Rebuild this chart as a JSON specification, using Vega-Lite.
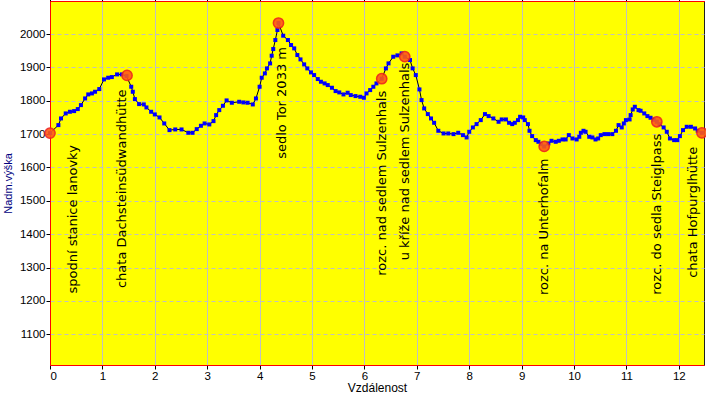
{
  "$schema": "https://vega.github.io/schema/vega-lite/v6.json",
  "width": 654,
  "height": 364,
  "autosize": {"type": "none"},
  "padding": {"left": 50, "top": 1, "right": 2, "bottom": 32},
  "background": "white",
  "config": {
    "view": {"fill": "#FFFF00", "stroke": "#202020", "strokeWidth": 1},
    "axis": {
      "labelFont": "Liberation Sans", "labelFontSize": 11.5, "labelColor": "#000000",
      "tickColor": "#000000", "tickSize": 4, "domainColor": "#FF0000",
      "gridColor": "#C0C0C0", "gridDash": [4, 3], "gridWidth": 1,
      "titleFont": "Liberation Sans", "titleFontWeight": "normal", "titleFontSize": 11, "titleColor": "#000000"
    }
  },
  "datasets": {
    "profile": [
      {"km":0.00,"elev":1703},{"km":0.16,"elev":1727},{"km":0.21,"elev":1747},{"km":0.30,"elev":1762},{"km":0.38,"elev":1767},
      {"km":0.46,"elev":1769},{"km":0.53,"elev":1775},{"km":0.59,"elev":1787},{"km":0.67,"elev":1807},{"km":0.73,"elev":1819},
      {"km":0.80,"elev":1822},{"km":0.86,"elev":1827},{"km":0.94,"elev":1835},{"km":1.03,"elev":1864},{"km":1.11,"elev":1869},
      {"km":1.18,"elev":1871},{"km":1.28,"elev":1879},{"km":1.37,"elev":1879},{"km":1.46,"elev":1874},{"km":1.55,"elev":1842},
      {"km":1.58,"elev":1827},{"km":1.62,"elev":1805},{"km":1.70,"elev":1790},{"km":1.79,"elev":1789},{"km":1.84,"elev":1780},
      {"km":1.93,"elev":1767},{"km":2.00,"elev":1759},{"km":2.09,"elev":1750},{"km":2.18,"elev":1732},{"km":2.28,"elev":1712},
      {"km":2.39,"elev":1714},{"km":2.51,"elev":1714},{"km":2.64,"elev":1704},{"km":2.72,"elev":1704},{"km":2.80,"elev":1715},
      {"km":2.88,"elev":1725},{"km":2.95,"elev":1732},{"km":3.04,"elev":1729},{"km":3.12,"elev":1739},{"km":3.17,"elev":1757},
      {"km":3.23,"elev":1772},{"km":3.30,"elev":1785},{"km":3.37,"elev":1801},{"km":3.47,"elev":1794},{"km":3.61,"elev":1797},
      {"km":3.69,"elev":1795},{"km":3.77,"elev":1794},{"km":3.87,"elev":1789},{"km":3.93,"elev":1807},{"km":4.00,"elev":1842},
      {"km":4.04,"elev":1869},{"km":4.10,"elev":1882},{"km":4.14,"elev":1897},{"km":4.20,"elev":1912},{"km":4.23,"elev":1935},
      {"km":4.26,"elev":1955},{"km":4.30,"elev":1982},{"km":4.34,"elev":2012},{"km":4.36,"elev":2033},{"km":4.45,"elev":1995},
      {"km":4.54,"elev":1982},{"km":4.60,"elev":1967},{"km":4.66,"elev":1957},{"km":4.72,"elev":1937},{"km":4.78,"elev":1924},
      {"km":4.85,"elev":1909},{"km":4.91,"elev":1897},{"km":4.98,"elev":1885},{"km":5.04,"elev":1877},{"km":5.11,"elev":1865},
      {"km":5.17,"elev":1857},{"km":5.24,"elev":1852},{"km":5.30,"elev":1847},{"km":5.38,"elev":1839},{"km":5.45,"elev":1829},
      {"km":5.52,"elev":1825},{"km":5.60,"elev":1819},{"km":5.68,"elev":1824},{"km":5.74,"elev":1817},{"km":5.83,"elev":1814},
      {"km":5.92,"elev":1812},{"km":5.99,"elev":1809},{"km":6.04,"elev":1822},{"km":6.11,"elev":1832},{"km":6.17,"elev":1842},
      {"km":6.23,"elev":1852},{"km":6.33,"elev":1866},{"km":6.41,"elev":1897},{"km":6.46,"elev":1912},{"km":6.55,"elev":1932},
      {"km":6.63,"elev":1936},{"km":6.71,"elev":1942},{"km":6.77,"elev":1932},{"km":6.87,"elev":1922},{"km":6.92,"elev":1897},
      {"km":6.98,"elev":1877},{"km":7.05,"elev":1834},{"km":7.09,"elev":1802},{"km":7.14,"elev":1777},{"km":7.21,"elev":1760},
      {"km":7.27,"elev":1747},{"km":7.33,"elev":1734},{"km":7.41,"elev":1710},{"km":7.51,"elev":1702},{"km":7.60,"elev":1702},
      {"km":7.70,"elev":1700},{"km":7.79,"elev":1704},{"km":7.88,"elev":1697},{"km":7.95,"elev":1690},{"km":8.00,"elev":1707},
      {"km":8.07,"elev":1720},{"km":8.14,"elev":1730},{"km":8.22,"elev":1742},{"km":8.30,"elev":1760},{"km":8.37,"elev":1754},
      {"km":8.46,"elev":1747},{"km":8.56,"elev":1737},{"km":8.62,"elev":1744},{"km":8.70,"elev":1744},{"km":8.76,"elev":1734},
      {"km":8.82,"elev":1730},{"km":8.87,"elev":1734},{"km":8.93,"elev":1742},{"km":8.97,"elev":1752},{"km":9.03,"elev":1750},
      {"km":9.06,"elev":1742},{"km":9.12,"elev":1730},{"km":9.15,"elev":1710},{"km":9.20,"elev":1694},{"km":9.27,"elev":1682},
      {"km":9.32,"elev":1677},{"km":9.37,"elev":1670},{"km":9.43,"elev":1663},{"km":9.51,"elev":1672},{"km":9.57,"elev":1680},
      {"km":9.65,"elev":1677},{"km":9.71,"elev":1680},{"km":9.78,"elev":1684},{"km":9.84,"elev":1684},{"km":9.90,"elev":1697},
      {"km":9.97,"elev":1687},{"km":10.05,"elev":1684},{"km":10.10,"elev":1692},{"km":10.13,"elev":1704},{"km":10.18,"elev":1710},
      {"km":10.22,"elev":1707},{"km":10.29,"elev":1692},{"km":10.35,"elev":1690},{"km":10.41,"elev":1684},{"km":10.46,"elev":1687},
      {"km":10.51,"elev":1697},{"km":10.58,"elev":1700},{"km":10.65,"elev":1700},{"km":10.73,"elev":1700},{"km":10.80,"elev":1710},
      {"km":10.85,"elev":1727},{"km":10.91,"elev":1720},{"km":10.95,"elev":1732},{"km":10.99,"elev":1742},{"km":11.06,"elev":1744},
      {"km":11.08,"elev":1757},{"km":11.12,"elev":1774},{"km":11.16,"elev":1782},{"km":11.23,"elev":1772},{"km":11.27,"elev":1770},
      {"km":11.34,"elev":1762},{"km":11.40,"elev":1754},{"km":11.46,"elev":1749},{"km":11.52,"elev":1743},{"km":11.58,"elev":1737},
      {"km":11.63,"elev":1730},{"km":11.71,"elev":1720},{"km":11.77,"elev":1707},{"km":11.83,"elev":1687},{"km":11.91,"elev":1682},
      {"km":11.97,"elev":1682},{"km":12.02,"elev":1694},{"km":12.08,"elev":1712},{"km":12.15,"elev":1722},{"km":12.23,"elev":1722},
      {"km":12.31,"elev":1717},{"km":12.36,"elev":1710},{"km":12.44,"elev":1704}
    ],
    "points": [
      {"km":0.00,"elev":1703,"name":"spodní stanice lanovky"},
      {"km":1.47,"elev":1876,"name":"chata Dachsteinsüdwandhütte"},
      {"km":4.36,"elev":2033,"name":"sedlo Tor 2033 m"},
      {"km":6.33,"elev":1866,"name":"rozc. nad sedlem Sulzenhals"},
      {"km":6.77,"elev":1932,"name":"u kříže nad sedlem Sulzenhals"},
      {"km":9.43,"elev":1663,"name":"rozc. na Unterhofalm"},
      {"km":11.58,"elev":1737,"name":"rozc. do sedla Steiglpass"},
      {"km":12.44,"elev":1704,"name":"chata Hofpurglhütte"}
    ]
  },
  "encoding": {
    "x": {"field": "km", "type": "quantitative",
      "scale": {"domain": [0, 12.48], "nice": false, "zero": false},
      "axis": {"values": [0,1,2,3,4,5,6,7,8,9,10,11,12], "title": "Vzdálenost", "titleFontSize": 12, "titlePadding": 1, "labelPadding": 1, "grid": true}},
    "y": {"field": "elev", "type": "quantitative",
      "scale": {"domain": [1008, 2099], "nice": false, "zero": false},
      "axis": {"values": [1100,1200,1300,1400,1500,1600,1700,1800,1900,2000], "format": "d", "title": "Nadm.výška", "titleColor": "#000080", "titlePadding": 6, "labelPadding": 1, "grid": true}}
  },
  "layer": [
    {
      "data": {"name": "profile"},
      "mark": {"type": "line", "color": "#000000", "strokeWidth": 1}
    },
    {
      "data": {"name": "profile"},
      "mark": {"type": "square", "size": 16, "color": "#0000FF", "opacity": 1}
    },
    {
      "data": {"name": "points"},
      "mark": {"type": "circle", "size": 105, "fill": "#FF5A14", "stroke": "#EE2020", "strokeWidth": 1.5, "opacity": 0.9},
      "encoding": {
        "x": {"field": "km", "type": "quantitative",
          "axis": {"orient": "top", "values": [], "labels": false, "ticks": false, "grid": false, "title": null, "domainColor": "#FF0000"}}
      }
    },
    {
      "data": {"name": "points"},
      "transform": [{"filter": {"field": "name", "oneOf": ["rozc. nad sedlem Sulzenhals", "rozc. na Unterhofalm", "rozc. do sedla Steiglpass"]}}],
      "mark": {"type": "text", "angle": 270, "align": "right", "baseline": "middle", "dx": -12, "dy": 0, "font": "DejaVu Sans", "fontSize": 13, "color": "#000000"},
      "encoding": {"text": {"field": "name"}}
    },
    {
      "data": {"name": "points"},
      "transform": [{"filter": {"field": "name", "equal": "spodní stanice lanovky"}}],
      "mark": {"type": "text", "angle": 270, "align": "right", "baseline": "middle", "dx": -12, "dy": 23, "font": "DejaVu Sans", "fontSize": 13, "color": "#000000"},
      "encoding": {"text": {"field": "name"}}
    },
    {
      "data": {"name": "points"},
      "transform": [{"filter": {"field": "name", "equal": "chata Dachsteinsüdwandhütte"}}],
      "mark": {"type": "text", "angle": 270, "align": "right", "baseline": "middle", "dx": -14, "dy": -5, "font": "DejaVu Sans", "fontSize": 13, "color": "#000000"},
      "encoding": {"text": {"field": "name"}}
    },
    {
      "data": {"name": "points"},
      "transform": [{"filter": {"field": "name", "equal": "sedlo Tor 2033 m"}}],
      "mark": {"type": "text", "angle": 270, "align": "right", "baseline": "middle", "dx": -24, "dy": 4, "font": "DejaVu Sans", "fontSize": 13, "color": "#000000"},
      "encoding": {"text": {"field": "name"}}
    },
    {
      "data": {"name": "points"},
      "transform": [{"filter": {"field": "name", "equal": "u kříže nad sedlem Sulzenhals"}}],
      "mark": {"type": "text", "angle": 270, "align": "right", "baseline": "middle", "dx": -6, "dy": 0, "font": "DejaVu Sans", "fontSize": 13, "color": "#000000"},
      "encoding": {"text": {"field": "name"}}
    },
    {
      "data": {"name": "points"},
      "transform": [{"filter": {"field": "name", "equal": "chata Hofpurglhütte"}}],
      "mark": {"type": "text", "angle": 270, "align": "right", "baseline": "middle", "dx": -14, "dy": -9, "font": "DejaVu Sans", "fontSize": 13, "color": "#000000"},
      "encoding": {"text": {"field": "name"}}
    }
  ],
  "resolve": {"axis": {"x": "independent"}}
}
